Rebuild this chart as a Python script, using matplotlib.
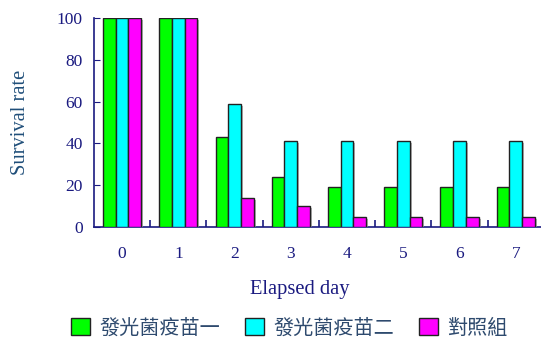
import matplotlib
matplotlib.use('Agg')
import matplotlib.pyplot as plt
import matplotlib.patheffects as pe
from matplotlib.patches import Patch
import numpy as np

# survival data per elapsed day
days = ['0', '1', '2', '3', '4', '5', '6', '7']
vaccine1 = [100, 100, 43, 24, 19, 19, 19, 19]
vaccine2 = [100, 100, 59, 41, 41, 41, 41, 41]
control = [100, 100, 14, 10, 5, 5, 5, 5]
series_names = ['發光菌疫苗一', '發光菌疫苗二', '對照組']
series_colors = ['#00ff00', '#00ffff', '#ff00ff']

navy = '#1a1a80'
label_col = '#1f4e79'

plt.rcParams['font.family'] = ['Liberation Serif', 'DejaVu Serif']

fig = plt.figure(figsize=(5.41, 3.40), dpi=100)
ax = fig.add_axes([94/541, 113/340, 447/541, 209/340])

x = np.arange(len(days))
w = 0.226
shadow = [pe.SimplePatchShadow(offset=(1.5, -1.5), shadow_rgbFace='#999999', alpha=0.7), pe.Normal()]
for i, (vals, col) in enumerate(zip([vaccine1, vaccine2, control], series_colors)):
    ax.bar(x + (i - 1) * w, vals, width=w, color=col, edgecolor='#222222',
           linewidth=1.0, path_effects=shadow, zorder=3)

ax.set_xlim(-0.5, 7.45)
ax.set_ylim(0, 100)
ax.set_yticks([0, 20, 40, 60, 80, 100])
ax.set_xticks(x)
ax.set_xticklabels(days)
ax.set_xticks(np.arange(0.5, 7, 1), minor=True)

for s in ['top', 'right']:
    ax.spines[s].set_visible(False)
for s in ['left', 'bottom']:
    ax.spines[s].set_color(navy)
    ax.spines[s].set_linewidth(1.2)

ax.tick_params(axis='y', direction='in', length=4, color=navy, labelcolor=navy,
               labelsize=12.5, pad=8)
ax.tick_params(axis='x', which='major', length=0, labelcolor=navy, labelsize=12.5, pad=14)
ax.tick_params(axis='x', which='minor', direction='in', length=5, color=navy, width=1.2)

ax.set_ylabel('Survival rate', color=label_col, fontsize=14.8)
ax.yaxis.set_label_coords(-0.143, 0.5)
ax.set_xlabel('Elapsed day', color=navy, fontsize=14.8)
ax.xaxis.set_label_coords(0.46, -0.252)

handles = [Patch(facecolor=c, edgecolor='#222222', linewidth=1.0) for c in series_colors]
fig.legend(handles, series_names, loc='center', bbox_to_anchor=(0.535, 0.035), ncol=3,
           frameon=False, handlelength=0.95, handleheight=0.95, handletextpad=0.45,
           columnspacing=1.25, borderaxespad=0,
           prop={'family': ['Noto Sans CJK TC', 'DejaVu Sans'], 'size': 14.5},
           labelcolor='#2e4a6e')

fig.savefig('out.png', dpi=100)
